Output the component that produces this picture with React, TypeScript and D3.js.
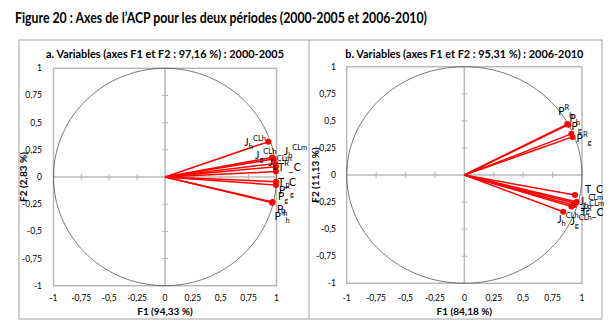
import React from "react";
import * as d3 from "d3";

// ---------- data ----------
const tickValues = [-1, -0.75, -0.5, -0.25, 0, 0.25, 0.5, 0.75, 1];
const tickLabels = ["-1", "-0,75", "-0,5", "-0,25", "0", "0,25", "0,5", "0,75", "1"];

// label mini-syntax: segments split by "|", "~x" = subscript, "^x" = superscript
const leftLabels = ["J|~h|^CLh", "J|~g|^CLh", "J|~h|^CLm", "J|~g|^CLm", "T|^R|_C", "T_C", "P|^R|~g", "P|~g", "P|~h", "P|^R|~h"];
const leftF1 = [0.927, 0.96, 0.975, 0.99, 0.995, 0.995, 0.995, 0.995, 0.96, 0.965];
const leftF2 = [0.325, 0.18, 0.165, 0.125, 0.095, 0.05, -0.043, -0.074, -0.236, -0.23];

const rightLabels = ["P|^R|~h", "P|~h", "P|~g", "P|^R|~g", "T_C", "J|~h|^CLm", "J|~g|^CLm", "T|^R|_C", "J|~g|^CLh", "J|~h|^CLh"];
const rightF1 = [0.875, 0.885, 0.91, 0.92, 0.94, 0.955, 0.94, 0.93, 0.91, 0.84];
const rightF2 = [0.47, 0.465, 0.38, 0.352, -0.185, -0.25, -0.26, -0.28, -0.29, -0.34];

// label placement offsets (px, style only)
const leftLabelDx = [-24, -17, 10, -7, 2, 2, 3, 2, 5, 2];
const leftLabelDy = [4, 2, -4, 3, 4, 14, 12, 15, 10, 18];
const rightLabelDx = [-9, 1, 0, 4, 10, 3, 6, 7, -1, -6];
const rightLabelDy = [-9, -3, -4, 5, -2, 3, 8, 11, 19, 11];

const mainTitle = "Figure 20 : Axes de l\u2019ACP pour les deux périodes (2000-2005 et 2006-2010)";
const panelTitles = [
  "a. Variables (axes F1 et F2 : 97,16 %) : 2000-2005",
  "b. Variables (axes F1 et F2 : 95,31 %) : 2006-2010",
];
const xTitles = ["F1 (94,33 %)", "F1 (84,18 %)"];
const yTitles = ["F2 (2,83 %)", "F2 (11,13 %)"];

const FONT = "Lato, 'Open Sans', sans-serif";
const GRID = "#B8B8B8";

function Label({ x, y, spec }: { x: number; y: number; spec: string }) {
  const segs = spec.split("|");
  let cur = 0;
  const parts = segs.map((s, i) => {
    let target = 0;
    let size = 10.5;
    let t = s;
    if (s.startsWith("~")) { target = 3; size = 7.5; t = s.slice(1); }
    else if (s.startsWith("^")) { target = -5; size = 7.5; t = s.slice(1); }
    const dy = target - cur;
    cur = target;
    return (
      <tspan key={i} dy={dy} fontSize={size}>{t}</tspan>
    );
  });
  return (
    <text x={x} y={y} fontFamily={FONT} fontSize={10.5} fill="#000">{parts}</text>
  );
}

function Panel(props: {
  x0: number; x1: number; y0: number; y1: number;
  yLabX: number; yTitleX: number;
  title: string; xTitle: string; yTitle: string;
  labels: string[]; f1: number[]; f2: number[]; ldx: number[]; ldy: number[];
}) {
  const { x0, x1, y0, y1 } = props;
  const sx = d3.scaleLinear().domain([-1, 1]).range([x0, x1]);
  const sy = d3.scaleLinear().domain([-1, 1]).range([y1, y0]);
  const cx = sx(0), cy = sy(0);
  const circle = d3.range(0, 361, 2).map((a) => [sx(Math.cos((a * Math.PI) / 180)), sy(Math.sin((a * Math.PI) / 180))] as [number, number]);
  const line = d3.line();
  return (
    <g>
      <text x={cx} y={58} textAnchor="middle" fontFamily={FONT} fontWeight="bold" fontSize={10.5} textLength={238} lengthAdjust="spacingAndGlyphs">{props.title}</text>
      <rect x={x0} y={y0} width={x1 - x0} height={y1 - y0} fill="none" stroke={GRID} strokeWidth={1.5} />
      <line x1={x0} x2={x1} y1={cy} y2={cy} stroke={GRID} strokeWidth={1.5} />
      <line x1={cx} x2={cx} y1={y0} y2={y1} stroke={GRID} strokeWidth={1.5} />
      {tickValues.map((t, i) => (
        <g key={i}>
          <line x1={sx(t)} x2={sx(t)} y1={cy - 3} y2={cy + 3} stroke={GRID} strokeWidth={1} />
          <line x1={cx - 3} x2={cx + 3} y1={sy(t)} y2={sy(t)} stroke={GRID} strokeWidth={1} />
          <text x={sx(t)} y={301} textAnchor="middle" fontFamily={FONT} fontSize={8.5} fill="#000">{tickLabels[i]}</text>
          <text x={props.yLabX} y={sy(t) + 3} textAnchor="end" fontFamily={FONT} fontSize={8.5} fill="#000">{tickLabels[i]}</text>
        </g>
      ))}
      <path d={line(circle) || ""} fill="none" stroke="#555" strokeWidth={0.8} />
      <text x={cx} y={315} textAnchor="middle" fontFamily={FONT} fontWeight="bold" fontSize={10}>{props.xTitle}</text>
      <text transform={`translate(${props.yTitleX},${cy}) rotate(-90)`} textAnchor="middle" fontFamily={FONT} fontWeight="bold" fontSize={10}>{props.yTitle}</text>
      {props.f1.map((v, i) => (
        <g key={i}>
          <line x1={cx} y1={cy} x2={sx(v)} y2={sy(props.f2[i])} stroke="#FF0000" strokeWidth={1.5} />
          <circle cx={sx(v)} cy={sy(props.f2[i])} r={3} fill="#FF0000" />
        </g>
      ))}
      {props.f1.map((v, i) => (
        <Label key={i} x={sx(v) + props.ldx[i]} y={sy(props.f2[i]) + props.ldy[i]} spec={props.labels[i]} />
      ))}
    </g>
  );
}

export default function App() {
  return (
    <svg width={616} height={336} style={{ position: "absolute", left: 0, top: 0, background: "#fff" }}>
      <rect width={616} height={336} fill="#fff" />
      <text x={15} y={23} fontFamily={FONT} fontWeight="bold" fontSize={16} textLength={412} lengthAdjust="spacingAndGlyphs">{mainTitle}</text>
      <rect x={19} y={40} width={583} height={279} fill="none" stroke="#A0A0A0" strokeWidth={1} />
      <line x1={309} x2={309} y1={40} y2={319} stroke="#A0A0A0" strokeWidth={1} />
      <Panel x0={53.5} x1={276.5} y0={68.3} y1={285.7} yLabX={42} yTitleX={27}
        title={panelTitles[0]} xTitle={xTitles[0]} yTitle={yTitles[0]}
        labels={leftLabels} f1={leftF1} f2={leftF2} ldx={leftLabelDx} ldy={leftLabelDy} />
      <Panel x0={346.7} x1={582} y0={66.7} y1={283.3} yLabX={336} yTitleX={319}
        title={panelTitles[1]} xTitle={xTitles[1]} yTitle={yTitles[1]}
        labels={rightLabels} f1={rightF1} f2={rightF2} ldx={rightLabelDx} ldy={rightLabelDy} />
    </svg>
  );
}
